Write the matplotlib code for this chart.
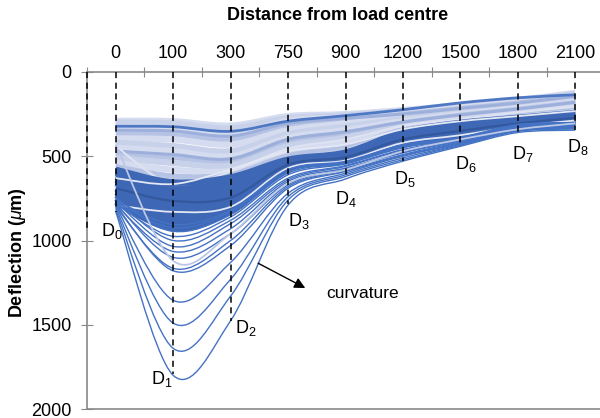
import numpy as np
import matplotlib
matplotlib.use("Agg")
import matplotlib.pyplot as plt
from matplotlib.path import Path
from matplotlib.patches import PathPatch

plt.rcParams['font.family'] = ['Liberation Sans', 'DejaVu Sans']
plt.rcParams['mathtext.fontset'] = 'custom'
plt.rcParams['mathtext.rm'] = 'Liberation Sans'
plt.rcParams['mathtext.it'] = 'Liberation Sans:italic'

# sensor offsets (mm) shown as categories on the top axis
distances = ['0', '100', '300', '750', '900', '1200', '1500', '1800', '2100']
sensor_names = ['D$_0$', 'D$_1$', 'D$_2$', 'D$_3$', 'D$_4$',
                'D$_5$', 'D$_6$', 'D$_7$', 'D$_8$']
# depth where each dashed sensor line stops (um)
sensor_line_ends = [830, 1794, 1476, 782, 635, 529, 441, 359, 347]
left_line_end = 940

# deflection basins D0..D8 (um)
light_basins = [
    [290, 292, 318, 262, 250, 226, 196, 166, 124],
    [300, 305, 335, 275, 258, 235, 205, 172, 132],
    [330, 335, 370, 290, 268, 245, 212, 180, 140],
    [360, 365, 400, 320, 285, 255, 220, 188, 148],
    [395, 400, 430, 345, 305, 268, 230, 195, 155],
    [420, 440, 470, 370, 325, 280, 240, 205, 165],
    [450, 470, 500, 390, 345, 292, 250, 215, 175],
    [480, 505, 525, 410, 365, 305, 260, 225, 185],
    [510, 540, 555, 440, 390, 318, 270, 235, 195],
    [540, 580, 585, 470, 420, 330, 280, 245, 210],
    [565, 620, 610, 500, 450, 345, 292, 258, 225],
    [585, 650, 630, 520, 472, 355, 300, 268, 238],
]
light_shades = ['#d6dcef', '#c8d1ea', '#d6dcef', '#b6c3e4', '#d6dcef', '#c8d1ea',
                '#d6dcef', '#b6c3e4', '#c8d1ea', '#d6dcef', '#b6c3e4', '#c8d1ea']

top_basin = [322, 325, 352, 292, 259, 224, 183, 153, 135]
mid_basins = [
    [345, 350, 380, 305, 275, 250, 216, 184, 144],
    [470, 490, 515, 400, 355, 298, 255, 220, 180],
]

dark_basins = [
    [580, 655, 625, 520, 478, 356, 302, 272, 243],
    [600, 690, 650, 527, 484, 365, 312, 279, 250],
    [620, 720, 680, 533, 490, 375, 322, 286, 256],
    [640, 750, 705, 540, 496, 385, 332, 293, 262],
    [660, 780, 730, 546, 502, 395, 342, 300, 268],
    [690, 810, 755, 552, 508, 403, 352, 307, 274],
    [710, 840, 775, 558, 514, 411, 362, 314, 280],
    [730, 870, 795, 564, 519, 418, 372, 320, 286],
    [750, 900, 815, 570, 524, 424, 380, 325, 291],
    [770, 930, 830, 576, 529, 429, 388, 329, 294],
]
navy_basin = [690, 765, 745, 550, 505, 400, 350, 305, 272]

pale_basins = [
    [440, 670, 590, 455, 400, 320, 280, 240, 205],
    [630, 665, 578, 470, 430, 340, 292, 262, 232],
    [790, 830, 800, 570, 525, 420, 375, 322, 288],
]
pale_deep_basin = [430, 1120, 960, 660, 580, 470, 400, 340, 305]

deep_basins = [
    [830, 1800, 1476, 790, 635, 529, 441, 359, 345],
    [815, 1640, 1330, 760, 620, 520, 435, 352, 338],
    [805, 1490, 1230, 740, 610, 510, 430, 348, 333],
    [795, 1355, 1130, 720, 600, 500, 425, 344, 330],
    [790, 1180, 1030, 690, 590, 495, 420, 340, 326],
    [800, 1165, 1000, 680, 585, 490, 415, 336, 322],
    [780, 1100, 960, 670, 575, 480, 410, 332, 318],
    [790, 1065, 930, 650, 570, 475, 405, 328, 315],
    [770, 1035, 900, 640, 560, 465, 400, 325, 312],
    [760, 1000, 880, 630, 555, 460, 398, 322, 309],
    [780, 975, 860, 610, 545, 450, 395, 320, 306],
    [750, 945, 845, 600, 540, 445, 392, 318, 304],
    [770, 925, 830, 590, 535, 440, 390, 315, 302],
    [760, 905, 820, 580, 530, 432, 388, 312, 300],
]


def smooth_path(vals):
    # Excel-like smoothed line: cubic bezier through every point
    y = np.asarray(vals, dtype=float)
    x = np.arange(len(y), dtype=float)
    n = len(y)
    verts = [(x[0], y[0])]
    codes = [Path.MOVETO]
    for i in range(n - 1):
        j0 = max(i - 1, 0)
        j3 = min(i + 2, n - 1)
        c1 = (x[i] + (x[i + 1] - x[j0]) / 6, y[i] + (y[i + 1] - y[j0]) / 6)
        c2 = (x[i + 1] - (x[j3] - x[i]) / 6, y[i + 1] - (y[j3] - y[i]) / 6)
        verts += [c1, c2, (x[i + 1], y[i + 1])]
        codes += [Path.CURVE4] * 3
    return Path(verts, codes)


def draw(ax, vals, color, lw):
    ax.add_patch(PathPatch(smooth_path(vals), fill=False, edgecolor=color, lw=lw))


fig = plt.figure(figsize=(6, 4.18), dpi=100)
ax = fig.add_axes([87 / 600, 9 / 418, 517 / 600, 337 / 418])

for vals, c in zip(light_basins, light_shades):
    draw(ax, vals, c, 4.5)
for vals in mid_basins:
    draw(ax, vals, '#9db0dc', 2.2)
draw(ax, top_basin, '#4f78c4', 2.0)
draw(ax, pale_basins[0], '#dde3f2', 1.5)
for vals in dark_basins:
    draw(ax, vals, '#3e67b5', 4.5)
draw(ax, navy_basin, '#33589e', 1.6)
for vals in pale_basins[1:]:
    draw(ax, vals, '#e4e8f4', 1.3)
for vals in deep_basins:
    draw(ax, vals, '#4472c4', 1.0)
draw(ax, pale_deep_basin, '#bcc7e6', 1.3)

# dashed sensor lines
ax.vlines(range(len(distances)), 0, sensor_line_ends, colors='black',
          linestyles=(0, (4, 3)), lw=1.1, zorder=5)
ax.vlines(-0.5, 0, left_line_end, colors='black', linestyles=(0, (4, 3)),
          lw=1.1, zorder=5, clip_on=False)

label_xy = [(-0.07, 941), (0.81, 1824), (2.27, 1518), (3.18, 882), (4.01, 753),
            (5.04, 635), (6.09, 547), (7.08, 488), (8.05, 447)]
for name, (lx, ly) in zip(sensor_names, label_xy):
    ax.text(lx, ly, name, ha='center', va='center', fontsize=13)

ax.annotate('', xy=(3.30, 1282), xytext=(2.48, 1135),
            arrowprops=dict(arrowstyle='-|>', color='black', lw=1,
                            mutation_scale=16, shrinkA=0, shrinkB=0))
ax.text(3.66, 1312, 'curvature', ha='left', va='center', fontsize=12.5)

ax.set_xlim(-0.5, 8.5)
ax.set_ylim(2000, 0)
ax.xaxis.set_ticks_position('top')
ax.set_xticks(np.arange(-0.5, 9, 1))
ax.set_xticklabels([])
ax.set_xticks(range(len(distances)), minor=True)
ax.set_xticklabels(distances, minor=True)
ax.tick_params(axis='x', which='major', direction='inout', length=7,
               color='#898989')
ax.tick_params(axis='x', which='minor', length=0, pad=7, labelsize=13)
ax.set_yticks(np.arange(0, 2001, 500))
ax.tick_params(axis='y', direction='inout', length=8, color='#898989',
               pad=7, labelsize=13)

for side in ['left', 'top', 'bottom']:
    ax.spines[side].set_color('#898989')
    ax.spines[side].set_linewidth(1.2)
ax.spines['right'].set_visible(False)

fig.text(338 / 600, 1 - 15 / 418, 'Distance from load centre', ha='center',
         va='center', fontsize=13, fontweight='bold')
fig.text(18 / 600, 1 - 253 / 418, r'Deflection ($\mu$m)', ha='center',
         va='center', rotation=90, fontsize=13, fontweight='bold')

fig.savefig('out.png', dpi=100)
